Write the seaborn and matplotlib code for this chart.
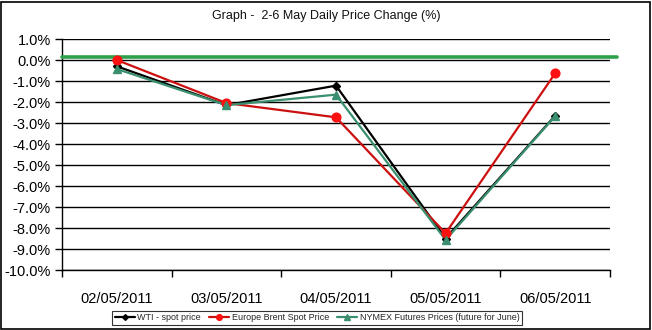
import matplotlib
matplotlib.use("Agg")
import matplotlib.pyplot as plt
from matplotlib.patches import Rectangle
from matplotlib.ticker import FixedLocator, FuncFormatter
import pandas as pd
import seaborn as sns

# Daily price change (%) for 2-6 May 2011
dates = ["02/05/2011", "03/05/2011", "04/05/2011", "05/05/2011", "06/05/2011"]
wti = [-0.3, -2.15, -1.22, -8.5, -2.65]
brent = [0.0, -2.05, -2.73, -8.25, -0.63]
nymex = [-0.43, -2.15, -1.65, -8.57, -2.67]
series_names = ["WTI - spot price", "Europe Brent Spot Price",
                "NYMEX Futures Prices (future for June)"]
reference_level = 0.15

sns.set_theme(style="white")
plt.rcParams["font.family"] = ["Liberation Sans", "DejaVu Sans"]

df = pd.DataFrame({
    "date": dates * 3,
    "x": list(range(len(dates))) * 3,
    "change": wti + brent + nymex,
    "series": [series_names[0]] * 5 + [series_names[1]] * 5 + [series_names[2]] * 5,
})

fig = plt.figure(figsize=(6.52, 3.30), dpi=100)
ax = fig.add_axes([62 / 652, 1 - 270 / 330, (610 - 62) / 652, (270 - 39) / 330])

palette = {series_names[0]: "#000000", series_names[1]: "#CC1010",
           series_names[2]: "#3A8F6E"}
markers = {series_names[0]: "D", series_names[1]: "o", series_names[2]: "^"}
sizes = {series_names[0]: 4.5, series_names[1]: 6.3, series_names[2]: 6.3}
mcolors = {series_names[0]: "#000000", series_names[1]: "#FF1010",
           series_names[2]: "#3A8F6E"}

sns.lineplot(data=df, x="x", y="change", hue="series", palette=palette,
             ax=ax, linewidth=1.6, legend=False, sort=False)
for name in series_names:
    sub = df[df["series"] == name]
    ax.plot(sub["x"], sub["change"], linestyle="none", marker=markers[name],
            markersize=sizes[name], color=mcolors[name], zorder=4)

# Horizontal reference line
ax.plot([-0.5, 4.56], [reference_level, reference_level], color="#2FA04A",
        linewidth=2.6, clip_on=False, zorder=3)

ax.set_xlim(-0.5, 4.5)
ax.set_ylim(-10, 1)
ax.set_yticks(range(-10, 2))
ax.yaxis.set_major_formatter(FuncFormatter(lambda v, p: f"{v:.1f}%"))
ax.grid(axis="y", color="black", linewidth=1.0)
ax.set_axisbelow(True)

ax.xaxis.set_major_locator(FixedLocator(range(len(dates))))
ax.set_xticklabels(dates)
ax.xaxis.set_minor_locator(FixedLocator([i - 0.5 for i in range(len(dates) + 1)]))
ax.tick_params(axis="x", which="major", length=0, labelsize=10.5, pad=16,
               labelcolor="black")
ax.tick_params(axis="x", which="minor", length=5, width=1, color="black",
               direction="out", bottom=True)
ax.tick_params(axis="y", length=5, width=1, color="black", direction="out",
               left=True, labelsize=10.5, labelcolor="black", pad=3)

for side in ["left", "bottom"]:
    ax.spines[side].set_color("black")
    ax.spines[side].set_linewidth(1.0)
ax.spines["top"].set_visible(False)
ax.spines["right"].set_visible(False)
ax.set_xlabel("")
ax.set_ylabel("")

fig.text(0.5, 1 - 16 / 330, "Graph -  2-6 May Daily Price Change (%)",
         ha="center", va="center", fontsize=9, color="#111111")

handles = [plt.Line2D([], [], color=palette[n], marker=markers[n],
                      markersize=sizes[n] * 0.65, markerfacecolor=mcolors[n],
                      markeredgecolor=mcolors[n], linewidth=1.6)
           for n in series_names]
leg = fig.legend(handles, series_names, loc="center",
                 bbox_to_anchor=(317 / 652, 1 - 318 / 330), ncol=3,
                 fontsize=6.5, frameon=True, fancybox=False,
                 handlelength=2.2, handletextpad=0.3, columnspacing=0.9,
                 borderpad=0.3, edgecolor="black")
leg.get_frame().set_linewidth(0.8)

fig.patches.append(Rectangle((1 / 652, 1 / 330), 649 / 652, 327 / 330,
                             transform=fig.transFigure, fill=False,
                             edgecolor="black", linewidth=1.2))

fig.savefig("out.png", dpi=100)
